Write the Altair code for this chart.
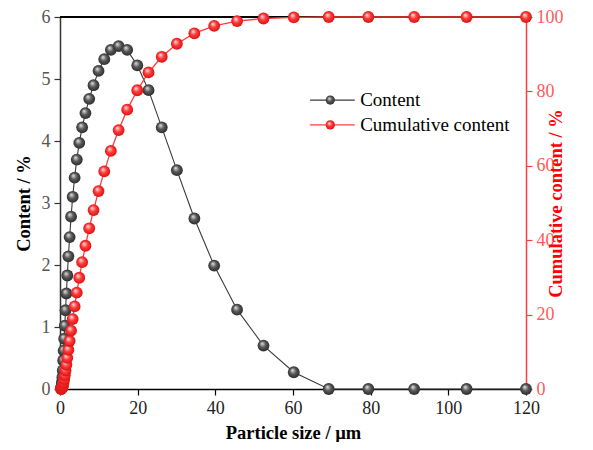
import altair as alt
import pandas as pd

sizes = [0.27, 0.31, 0.36, 0.41, 0.47, 0.54, 0.62, 0.71, 0.82, 0.94,
         1.08, 1.24, 1.42, 1.64, 1.88, 2.16, 2.48, 2.85, 3.27, 3.76,
         4.32, 4.96, 5.70, 6.55, 7.52, 8.64, 9.92, 11.4, 13.1, 15.1,
         17.3, 19.9, 22.8, 26.2, 30.1, 34.6, 39.7, 45.6, 52.4, 60.2,
         69.2, 79.4, 91.2, 104.7, 120.0]
content = [0.01, 0.02, 0.03, 0.05, 0.08, 0.12, 0.19, 0.30, 0.46, 0.62,
           0.81, 1.02, 1.27, 1.54, 1.83, 2.14, 2.45, 2.78, 3.10, 3.41,
           3.70, 3.97, 4.22, 4.45, 4.68, 4.90, 5.13, 5.32, 5.47, 5.53,
           5.47, 5.22, 4.82, 4.22, 3.53, 2.75, 1.99, 1.28, 0.70, 0.27,
           0, 0, 0, 0, 0]
cumulative = [0.01, 0.03, 0.06, 0.11, 0.19, 0.31, 0.50, 0.80, 1.26, 1.88,
              2.69, 3.71, 4.98, 6.52, 8.35, 10.5, 12.9, 15.7, 18.8, 22.2,
              25.9, 29.9, 34.1, 38.5, 43.2, 48.1, 53.2, 58.5, 64.0, 69.6,
              75.1, 80.3, 85.1, 89.3, 92.8, 95.6, 97.6, 98.9, 99.6, 99.9,
              100, 100, 100, 100, 100]
legend_labels = ["Content", "Cumulative content"]
x_ticks = [0, 20, 40, 60, 80, 100, 120]
y1_ticks = [0, 1, 2, 3, 4, 5, 6]
y2_ticks = [0, 20, 40, 60, 80, 100]

df = pd.DataFrame({"size": sizes, "content": content, "cum": cumulative})

FONT = "Liberation Serif"
BLACK_LINE = "#3a3a3a"
RED_LINE = "#ff3c3c"


def sphere(light, mid, dark):
    return alt.RadialGradient(
        gradient="radial",
        stops=[alt.GradientStop(color=light, offset=0),
               alt.GradientStop(color=mid, offset=0.45),
               alt.GradientStop(color=dark, offset=1)],
        x1=0.38, y1=0.32, r1=0.02, x2=0.5, y2=0.5, r2=0.55)


gray_sphere = sphere("#e0e0e0", "#5a5a5a", "#262626")
red_sphere = sphere("#ffe0e0", "#ff3a3a", "#d80c0c")

xscale = alt.Scale(domain=[0, 120], nice=False, zero=False)
xaxis = alt.Axis(title="Particle size / µm", values=x_ticks, format="d", grid=False,
                 labelFlush=False, domainColor="#000", domainWidth=1.5,
                 tickColor="#000", tickSize=6, tickWidth=1.2, labelColor="#222",
                 labelFont=FONT, labelFontSize=18, titleFont=FONT, titleFontSize=18.5,
                 titleFontWeight="bold", titleColor="#000", titlePadding=6,
                 labelPadding=4)

y1scale = alt.Scale(domain=[0, 6], nice=False)
y1axis = alt.Axis(title="Content / %", values=y1_ticks, format="d", grid=False,
                  domainColor="#333", domainWidth=1.5, tickColor="#333", tickSize=6,
                  tickWidth=1.2, labelColor="#555", labelFont=FONT, labelFontSize=18,
                  titleFont=FONT, titleFontSize=18.5, titleFontWeight="bold",
                  titleColor="#000", titlePadding=8, labelPadding=4)

y2scale = alt.Scale(domain=[0, 100], nice=False)
y2axis = alt.Axis(title="Cumulative content / %", orient="right", values=y2_ticks,
                  format="d", grid=False, domainColor=RED_LINE, domainWidth=1.5,
                  tickColor=RED_LINE, tickSize=6, tickWidth=1.2, labelColor="#ff5a5a",
                  labelFont=FONT, labelFontSize=18, titleFont=FONT, titleFontSize=18.5,
                  titleFontWeight="bold", titleColor="#ff0000", titleAngle=270,
                  titlePadding=2, labelPadding=4)

X = alt.X("size:Q", scale=xscale, axis=xaxis)
Y1 = alt.Y("content:Q", scale=y1scale, axis=y1axis)
Y2 = alt.Y("cum:Q", scale=y2scale, axis=y2axis)

base = alt.Chart(df)

c_line = base.mark_line(color=BLACK_LINE, strokeWidth=1.1).encode(x=X, y=Y1)
c_pts = base.mark_circle(fill=gray_sphere, size=140, opacity=1).encode(x=X, y=Y1)

top_rule = alt.Chart(pd.DataFrame({"a": [0]})).mark_rule(color="#000", strokeWidth=2).encode(
    x=alt.datum(0, scale=xscale, axis=xaxis), x2=alt.datum(120),
    y=alt.datum(6, scale=y1scale, axis=y1axis))

leg = pd.DataFrame({"label": legend_labels, "ly": [4.66, 4.26],
                    "x0": [64.4, 64.4], "x1": [75.9, 75.9], "xm": [69.6, 69.6],
                    "xt": [77.3, 77.3]})
leg_base = alt.Chart(leg)
LX0 = alt.X("x0:Q", scale=xscale, axis=xaxis)
LXM = alt.X("xm:Q", scale=xscale, axis=xaxis)
LXT = alt.X("xt:Q", scale=xscale, axis=xaxis)
LY = alt.Y("ly:Q", scale=y1scale, axis=y1axis)
leg_colors = alt.Scale(domain=legend_labels, range=[BLACK_LINE, RED_LINE])
leg_lines = leg_base.mark_rule(strokeWidth=1.3).encode(
    x=LX0, x2="x1:Q", y=LY,
    color=alt.Color("label:N", scale=leg_colors, legend=None))
leg_pt_gray = leg_base.transform_filter(alt.datum.label == "Content").mark_circle(
    fill=gray_sphere, size=85, opacity=1).encode(x=LXM, y=LY)
leg_pt_red = leg_base.transform_filter(alt.datum.label != "Content").mark_circle(
    fill=red_sphere, size=85, opacity=1).encode(x=LXM, y=LY)
leg_text = leg_base.mark_text(align="left", baseline="middle", font=FONT,
                              fontSize=19, color="#000").encode(
    x=LXT, y=LY, text="label:N")

left = alt.layer(c_line, c_pts, top_rule, leg_lines, leg_pt_gray, leg_pt_red, leg_text)

r_line = base.mark_line(color=RED_LINE, strokeWidth=1.3).encode(x=X, y=Y2)
r_pts = base.mark_circle(fill=red_sphere, size=140, opacity=1).encode(x=X, y=Y2)
right = alt.layer(r_line, r_pts)

chart = alt.layer(left, right).resolve_scale(y="independent").properties(
    width=466, height=372,
    autosize=alt.AutoSizeParams(type="none"),
    padding={"left": 52, "top": 9, "right": 59, "bottom": 53},
).configure_view(stroke=None).configure(background="white")

chart.save("out.html", embed_options={"renderer": "svg", "actions": False})
